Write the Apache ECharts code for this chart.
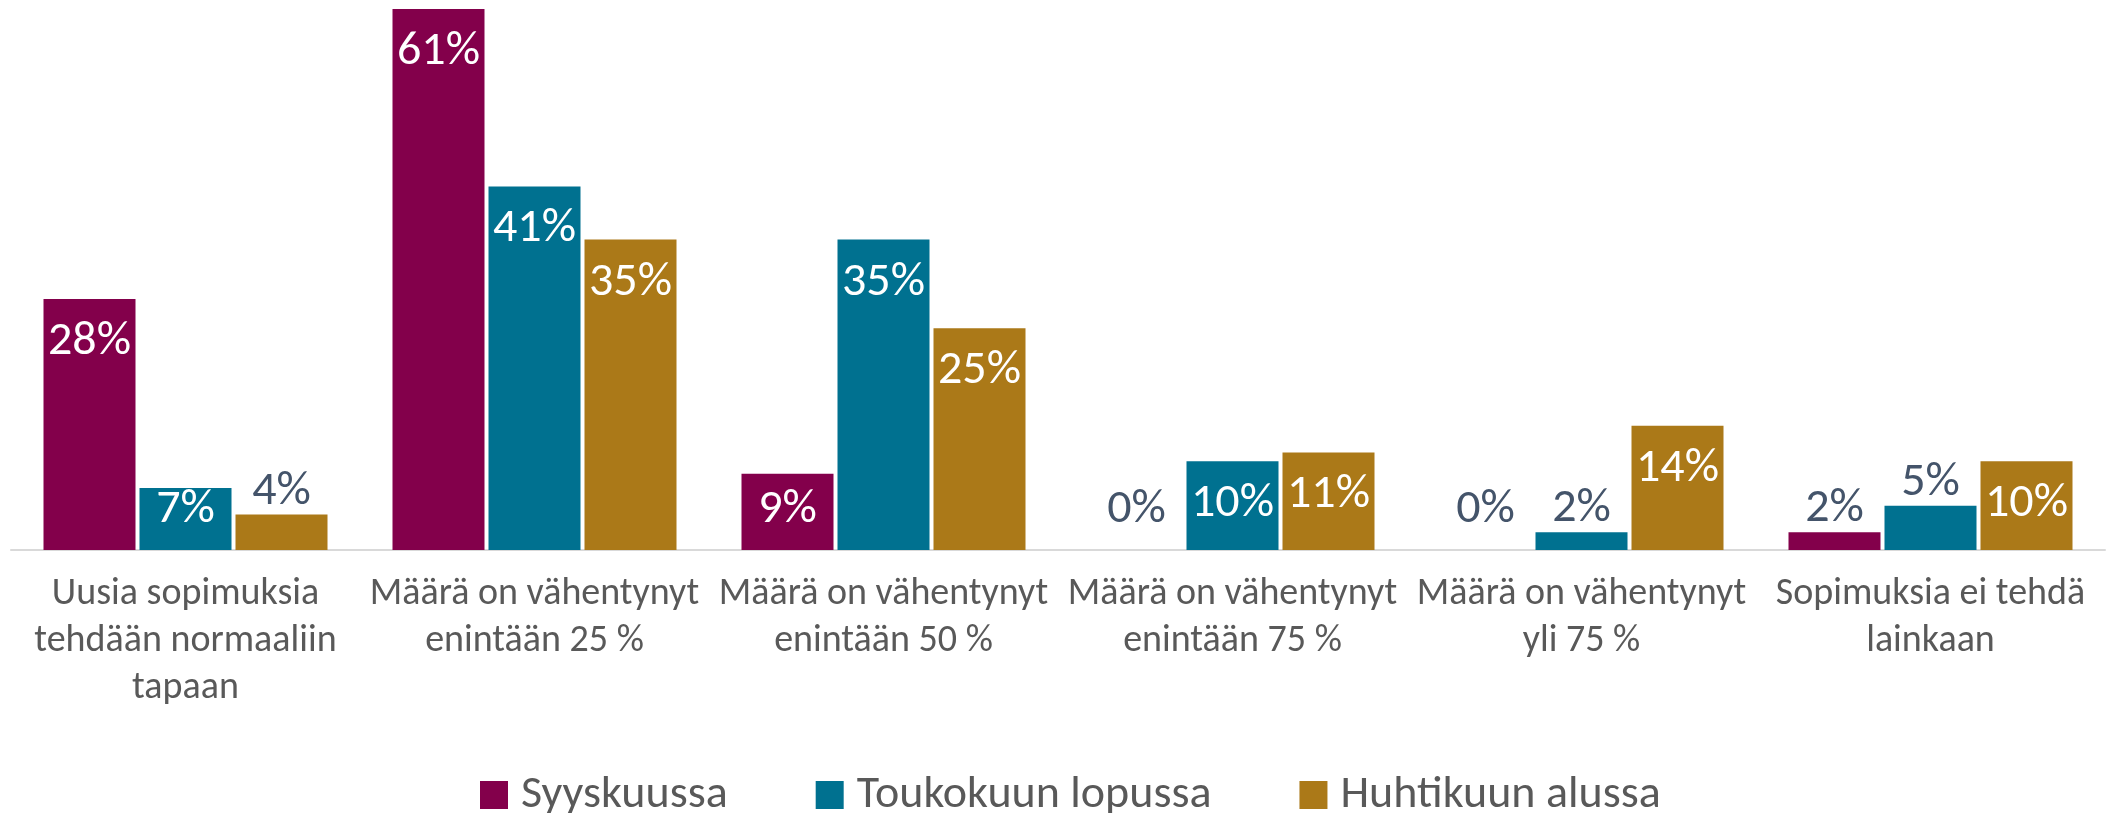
<!DOCTYPE html>
<html>
<head>
<meta charset="utf-8">
<script src="https://cdn.jsdelivr.net/npm/echarts@6/dist/echarts.min.js"></script>
<style>
  html, body { margin: 0; padding: 0; background: #fff; }
  #chart { width: 2107px; height: 813px; }
</style>
</head>
<body>
<div id="chart"></div>
<script>
const categories = [
  'Uusia sopimuksia\ntehdään normaaliin\ntapaan',
  'Määrä on vähentynyt\nenintään 25 %',
  'Määrä on vähentynyt\nenintään 50 %',
  'Määrä on vähentynyt\nenintään 75 %',
  'Määrä on vähentynyt\nyli 75 %',
  'Sopimuksia ei tehdä\nlainkaan'
]
const seriesNames = ['Syyskuussa', 'Toukokuun lopussa', 'Huhtikuun alussa']
const syyskuussa = [28.3, 61, 8.6, 0, 0, 2]
const toukokuu = [7, 41, 35, 10, 2, 5]
const huhtikuu = [4, 35, 25, 11, 14, 10]

const FONT = "Carlito, 'Open Sans', 'Noto Sans', sans-serif"
const colors = ['#83004B', '#007190', '#AB7918']
const Y_MAX = 61
const GRID_TOP = 9
const GRID_H = 541
const ppu = GRID_H / Y_MAX

// Excel-style labels: inside the bar end when it fits, otherwise above the bar
function items(vals) {
  return vals.map(v => {
    const h = v * ppu
    if (v > 5) {
      return { value: v, label: { position: 'insideTop', distance: Math.min(h - 63, 20), color: '#FFFFFF' } }
    }
    return { value: v, label: { position: 'top', distance: Math.max(17 - h, 0), color: '#44546A' } }
  })
}

const chart = echarts.init(document.getElementById('chart'))
chart.setOption({
  animation: false,
  textStyle: { fontFamily: FONT },
  color: colors,
  grid: { left: 11, right: 2, top: GRID_TOP, height: GRID_H },
  legend: {
    data: seriesNames,
    left: 475, top: 767,
    icon: 'rect', itemWidth: 28, itemHeight: 28, itemGap: 88,
    textStyle: { color: '#595959', fontSize: 46, lineHeight: 46, fontFamily: FONT, padding: [0, 0, 0, 8] }
  },
  xAxis: {
    type: 'category', data: categories,
    axisLine: { lineStyle: { color: '#D9D9D9', width: 2 } },
    axisTick: { show: false },
    axisLabel: { color: '#595959', fontSize: 38, lineHeight: 47, margin: 21, fontFamily: FONT, interval: 0 }
  },
  yAxis: {
    type: 'value', min: 0, max: Y_MAX, show: false,
    splitLine: { show: false }
  },
  series: [syyskuussa, toukokuu, huhtikuu].map((vals, i) => ({
    name: seriesNames[i], type: 'bar',
    barWidth: 92, barGap: '4.35%',
    data: items(vals),
    label: {
      show: true, fontSize: 48, lineHeight: 46, fontFamily: FONT,
      formatter: p => Math.round(p.value) + '%'
    }
  }))
})
</script>
</body>
</html>
